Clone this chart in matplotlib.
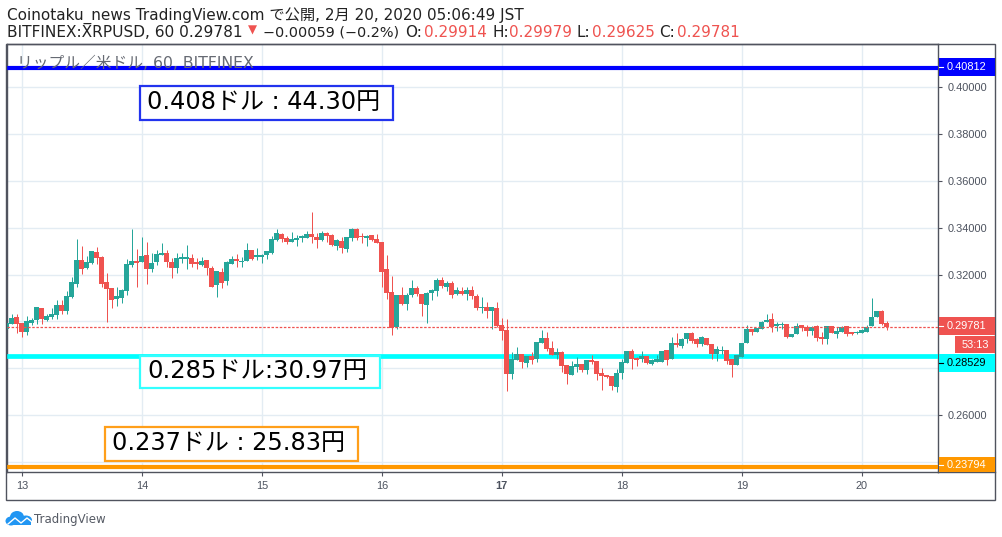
import numpy as np
import matplotlib
matplotlib.use('Agg')
import matplotlib.pyplot as plt
from matplotlib.patches import Rectangle, Ellipse, Polygon
from matplotlib.transforms import IdentityTransform

plt.rcParams['font.family'] = ['DejaVu Sans', 'Noto Sans CJK JP']

# 1 hour candles, XRPUSD
opens = [.2969,.2989,.3019,.2994,.2955,.2994,.3006,.3058,.3006,.3019,
         .3028,.3070,.3045,.3104,.3160,.3262,.3228,.3249,.3296,.3275,
         .3168,.3143,.3096,.3100,.3130,.3241,.3258,.3254,.3284,.3224,
         .3254,.3284,.3292,.3254,.3228,.3267,.3267,.3271,.3254,.3241,
         .3262,.3228,.3156,.3211,.3173,.3245,.3267,.3254,.3258,.3305,
         .3275,.3275,.3284,.3292,.3348,.3373,.3356,.3339,.3348,.3356,
         .3356,.3373,.3360,.3348,.3377,.3369,.3322,.3343,.3309,.3356,
         .3394,.3365,.3356,.3369,.3352,.3339,.3224,.3126,.2977,.3113,
         .3075,.3113,.3143,.3117,.3070,.3121,.3130,.3177,.3147,.3164,
         .3117,.3130,.3117,.3134,.3109,.3058,.3062,.3045,.3058,.2985,
         .2964,.2776,.2836,.2861,.2823,.2853,.2840,.2908,.2930,.2887,
         .2857,.2870,.2814,.2772,.2806,.2819,.2793,.2836,.2832,.2780,
         .2772,.2768,.2721,.2780,.2823,.2874,.2844,.2840,.2853,.2819,
         .2827,.2827,.2878,.2840,.2908,.2895,.2925,.2951,.2925,.2904,
         .2930,.2904,.2861,.2874,.2878,.2840,.2814,.2849,.2908,.2968,
         .2955,.2968,.2998,.3011,.2981,.2985,.2989,.2934,.2947,.2985,
         .2977,.2960,.2981,.2934,.2925,.2981,.2947,.2955,.2981,.2955,
         .2951,.2951,.2955,.2981,.3019,.3045,.2994]
highs = [.2993,.3032,.3032,.2994,.3023,.3015,.3062,.3058,.3032,.3058,
         .3092,.3092,.3130,.3190,.3352,.3322,.3279,.3301,.3318,.3279,
         .3207,.3143,.3147,.3139,.3267,.3394,.3309,.3360,.3339,.3292,
         .3305,.3335,.3305,.3271,.3292,.3292,.3326,.3288,.3271,.3275,
         .3262,.3237,.3215,.3228,.3258,.3279,.3288,.3275,.3335,.3305,
         .3313,.3288,.3301,.3365,.3394,.3377,.3365,.3382,.3369,.3369,
         .3386,.3467,.3377,.3386,.3382,.3373,.3352,.3360,.3360,.3399,
         .3399,.3377,.3369,.3369,.3373,.3339,.3284,.3194,.3113,.3147,
         .3121,.3177,.3151,.3117,.3126,.3139,.3186,.3190,.3173,.3173,
         .3147,.3147,.3147,.3151,.3117,.3104,.3083,.3062,.3083,.3015,
         .3011,.2870,.2891,.2861,.2853,.2870,.2912,.2964,.2955,.2917,
         .2887,.2874,.2814,.2832,.2849,.2819,.2836,.2857,.2832,.2802,
         .2772,.2768,.2797,.2840,.2874,.2883,.2849,.2874,.2853,.2840,
         .2857,.2874,.2878,.2934,.2951,.2930,.2951,.2955,.2930,.2938,
         .2930,.2904,.2895,.2895,.2878,.2840,.2857,.2908,.2985,.2968,
         .2972,.3002,.3032,.3036,.2998,.2998,.2989,.2947,.2994,.2985,
         .2985,.2981,.2985,.2955,.2981,.2981,.2977,.2981,.2981,.2955,
         .2960,.2968,.2985,.3100,.3045,.3049,.3002]
lows = [.2969,.2989,.2951,.2934,.2942,.2985,.2989,.2989,.3002,.3011,
        .3011,.3032,.3032,.3100,.3147,.3203,.3224,.3245,.3245,.3147,
        .2998,.3058,.3066,.3079,.3113,.3232,.3147,.3254,.3160,.3211,
        .3241,.3284,.3232,.3186,.3207,.3249,.3224,.3232,.3224,.3237,
        .3198,.3147,.3104,.3143,.3156,.3245,.3232,.3232,.3258,.3262,
        .3262,.3249,.3267,.3288,.3343,.3339,.3331,.3339,.3322,.3339,
        .3356,.3335,.3313,.3343,.3339,.3322,.3305,.3292,.3296,.3343,
        .3348,.3335,.3322,.3343,.3335,.3147,.3096,.2942,.2968,.3070,
        .3049,.3104,.3109,.3023,.2994,.3092,.3109,.3143,.3130,.3100,
        .3113,.3113,.3092,.3096,.3049,.3036,.3015,.2968,.2977,.2921,
        .2704,.2755,.2836,.2802,.2806,.2819,.2827,.2908,.2874,.2857,
        .2840,.2785,.2733,.2772,.2785,.2785,.2776,.2819,.2750,.2708,
        .2759,.2708,.2699,.2755,.2823,.2797,.2810,.2827,.2819,.2814,
        .2827,.2827,.2814,.2840,.2891,.2887,.2908,.2908,.2891,.2895,
        .2900,.2840,.2832,.2861,.2819,.2763,.2814,.2849,.2908,.2942,
        .2955,.2968,.2998,.2955,.2960,.2968,.2930,.2934,.2947,.2960,
        .2938,.2942,.2917,.2904,.2904,.2951,.2930,.2955,.2938,.2942,
        .2947,.2951,.2955,.2981,.3019,.2985,.2964]
closes = [.2993,.3015,.2989,.2955,.3002,.3005,.3062,.3011,.3023,.3032,
          .3070,.3045,.3109,.3168,.3262,.3224,.3254,.3301,.3271,.3160,
          .3139,.3092,.3109,.3134,.3245,.3258,.3249,.3279,.3224,.3249,
          .3288,.3292,.3254,.3228,.3271,.3275,.3275,.3245,.3245,.3258,
          .3228,.3147,.3215,.3164,.3254,.3267,.3258,.3258,.3305,.3267,
          .3284,.3284,.3301,.3352,.3377,.3352,.3339,.3352,.3356,.3365,
          .3373,.3360,.3348,.3377,.3365,.3326,.3348,.3313,.3360,.3394,
          .3356,.3360,.3365,.3348,.3335,.3211,.3121,.2972,.3113,.3075,
          .3113,.3143,.3117,.3075,.3121,.3134,.3177,.3151,.3164,.3113,
          .3134,.3117,.3134,.3109,.3058,.3062,.3045,.3062,.2981,.2960,
          .2776,.2840,.2861,.2827,.2853,.2836,.2912,.2930,.2883,.2857,
          .2870,.2810,.2776,.2810,.2819,.2793,.2836,.2827,.2776,.2768,
          .2763,.2725,.2780,.2827,.2874,.2840,.2836,.2853,.2823,.2836,
          .2840,.2874,.2836,.2908,.2900,.2925,.2951,.2917,.2904,.2934,
          .2900,.2861,.2883,.2878,.2832,.2814,.2857,.2908,.2968,.2955,
          .2972,.2998,.3006,.2977,.2989,.2989,.2934,.2947,.2981,.2972,
          .2960,.2977,.2930,.2925,.2981,.2951,.2960,.2977,.2947,.2947,
          .2955,.2964,.2977,.3019,.3045,.2989,.29781]

day_labels = ['13', '14', '15', '16', '17', '18', '19', '20']
price_ticks = [0.24, 0.26, 0.28, 0.30, 0.32, 0.34, 0.36, 0.38, 0.40]
# 0.24 and 0.28 sit behind the price tags, no label shown
price_labels = ['', '0.26000', '', '0.30000', '0.32000', '0.34000', '0.36000', '0.38000', '0.40000']
blue_level = 0.40812
cyan_level = 0.28529
orange_level = 0.23794
last_price = 0.29781

GREEN = '#26a69a'
RED = '#ef5350'
GRID = '#e3ecf3'
FRAME = '#50535e'
AXIS_FONT = 'Liberation Sans'
W, H = 1002, 537

fig = plt.figure(figsize=(W / 100, H / 100), dpi=100)
# pane runs 7..938 across and 44..472 down, in pixels
ax = fig.add_axes([7 / W, 1 - 472 / H, (938.5 - 7) / W, (472 - 44) / H])
ax.set_ylim(0.2358, 0.4183)
ax.set_xlim(-2.96, 183.34)

hours = np.arange(len(opens)) - 3
o = np.array(opens)
c = np.array(closes)
colors = [GREEN if c[i] >= o[i] else RED for i in range(len(o))]

wicks = ax.vlines(hours, lows, highs, colors=colors, linewidth=0.72, zorder=3)
wicks.set_snap(True)
ax.bar(hours, np.abs(c - o), bottom=np.minimum(o, c), width=1.0, color=colors, linewidth=0, zorder=3)

# grid and axes
ax.set_xticks(np.arange(len(day_labels)) * 24)
ax.set_xticklabels(day_labels, fontsize=7.9, color='#4c525e', family=AXIS_FONT)
ax.get_xticklabels()[4].set_fontweight('bold')
ax.yaxis.tick_right()
ax.set_yticks(price_ticks)
ax.set_yticklabels(price_labels, fontsize=7.9, color='#4c525e', family=AXIS_FONT)
ax.tick_params(axis='both', length=3.2, width=0.8, color=FRAME, pad=3.4)
ax.grid(True, color=GRID, linewidth=1)
ax.set_axisbelow(True)
for s in ax.spines.values():
    s.set_color(FRAME)
    s.set_linewidth(1)

# level lines
ax.axhline(blue_level, color='#0000ff', linewidth=3, zorder=4)
ax.axhline(cyan_level, color='#00ffff', linewidth=3.4, zorder=2.8)
ax.axhline(orange_level, color='#ff9800', linewidth=3, zorder=4)
ax.axhline(last_price, color=RED, linewidth=0.9, linestyle=(0, (2, 1.3)), zorder=4)

fig.text(17 / W, 1 - 63 / H, 'リップル／米ドル, 60, BITFINEX', fontsize=11.3, color='#666a73',
         va='center', ha='left', zorder=0.5)


def box(x0, y0, x1, y1, face='none', edge='none', lw=0, z=5):
    r = Rectangle((x0, H - y1), x1 - x0, y1 - y0, facecolor=face, edgecolor=edge,
                  linewidth=lw, transform=IdentityTransform(), zorder=z)
    fig.add_artist(r)


def label(x, y, s, size, color='black', ha='left', z=6, **kw):
    fig.text(x / W, 1 - y / H, s, fontsize=size, color=color, ha=ha, va='center', zorder=z, **kw)


def price_tag(top, bottom, s, face, fg):
    # the tags get pushed off their level when they would collide
    y = (top + bottom) / 2
    box(938.5, top, 995, bottom, face=face)
    fig.add_artist(plt.Line2D([939, 943], [H - y, H - y], color=fg, linewidth=0.8,
                              transform=IdentityTransform(), zorder=6))
    label(947, y, s, 7.9, color=fg, family=AXIS_FONT)


# outer frame
box(6, 44, 995, 500, edge=FRAME, lw=1, z=1)
fig.add_artist(plt.Line2D([938, 995], [H - 472, H - 472], color=FRAME, linewidth=1,
                          transform=IdentityTransform(), zorder=1))

price_tag(58, 76, '%.5f' % blue_level, '#0000ff', 'white')
price_tag(317, 335, '%.5f' % last_price, RED, 'white')
price_tag(354, 372, '%.5f' % cyan_level, '#00ffff', 'black')
price_tag(457, 472, '%.5f' % orange_level, '#ff9800', 'white')
box(955, 336, 995, 353, face=RED)
label(975, 344.5, '53:13', 7.9, color='white', ha='center', family=AXIS_FONT)

# annotation boxes
box(140, 85.5, 393, 119.5, face='white', edge='#2233ee', lw=1.6)
label(147, 102, '0.408ドル : 44.30円', 17.3)
box(140, 356, 380, 388, face='white', edge='#33ffff', lw=1.6)
label(147, 371, '0.285ドル:30.97円', 17.5)
box(105, 426.5, 358, 460.5, face='white', edge='#ff9f1a', lw=1.6)
label(112, 443, '0.237ドル : 25.83円', 17.3)

# header
label(7, 16, 'Coinotaku_news TradingView.com で公開, 2月 20, 2020 05:06:49 JST', 11, color='#222222')
label(7, 32.5, 'BITFINEX:XRPUSD, 60 0.29781', 11.1, color='#222222')
label(252.5, 30, '▼', 8.5, color=RED, ha='center')
label(263, 32.5, '−0.00059 (−0.2%)', 10.4, color='#222222')
label(405, 32.5, 'O:', 11, color='#222222')
label(424, 32.5, '0.29914', 11, color=RED)
label(492, 32.5, 'H:', 11, color='#222222')
label(509, 32.5, '0.29979', 11, color=RED)
label(577, 32.5, 'L:', 11, color='#222222')
label(592, 32.5, '0.29625', 11, color=RED)
label(659, 32.5, 'C:', 11, color='#222222')
label(677, 32.5, '0.29781', 11, color=RED)

# TradingView logo
LOGO = '#2196f3'
for cx, cy, ew, eh in [(11, 521, 11, 9), (17, 517, 14, 12), (26, 520, 12, 9)]:
    fig.add_artist(Ellipse((cx, H - cy), ew, eh, facecolor=LOGO, edgecolor='none',
                           transform=IdentityTransform(), zorder=5))
fig.add_artist(Polygon([(8, H - 521), (31, H - 521), (31, H - 525), (8, H - 525)], facecolor=LOGO,
                       edgecolor='none', transform=IdentityTransform(), zorder=5))
fig.add_artist(plt.Line2D([8, 15, 21, 27, 32], [H - 524, H - 518, H - 523, H - 518, H - 522], color='white',
                          linewidth=1, transform=IdentityTransform(), zorder=6))
label(34, 519, 'TradingView', 8.5, color='#555a64')

fig.savefig('out.png', dpi=100)
